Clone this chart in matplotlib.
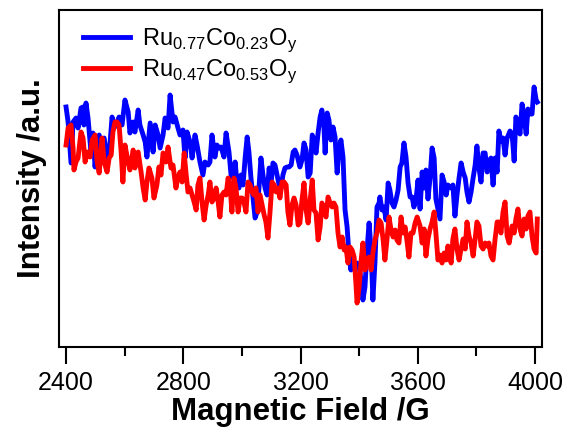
import matplotlib
matplotlib.use('Agg')
from matplotlib import pyplot as plt
from matplotlib.ticker import MultipleLocator

# EPR spectra (field in G, intensity in a.u.)
field_a = [2400, 2407, 2417, 2424, 2434, 2441, 2451, 2458, 2461, 2468, 2475, 2485, 2492, 2499, 2506, 2513,
           2523, 2530, 2540, 2547, 2557, 2564, 2574, 2581, 2591, 2601, 2612, 2618, 2629, 2635, 2646, 2652,
           2663, 2670, 2676, 2687, 2697, 2704, 2714, 2721, 2731, 2738, 2748, 2755, 2765, 2772, 2782, 2789,
           2799, 2806, 2813, 2823, 2830, 2840, 2847, 2857, 2867, 2874, 2885, 2891, 2898, 2908, 2915, 2922,
           2929, 2939, 2946, 2956, 2963, 2970, 2977, 2983, 2990, 2997, 3004, 3011, 3018, 3024, 3031, 3038,
           3045, 3052, 3059, 3065, 3072, 3079, 3086, 3093, 3099, 3106, 3113, 3120, 3127, 3134, 3140, 3147,
           3154, 3161, 3168, 3175, 3181, 3188, 3198, 3205, 3212, 3219, 3226, 3233, 3240, 3246, 3253, 3260,
           3267, 3273, 3280, 3284, 3291, 3297, 3304, 3311, 3318, 3325, 3331, 3338, 3345, 3349, 3352, 3359,
           3362, 3366, 3372, 3379, 3386, 3393, 3400, 3407, 3413, 3420, 3427, 3434, 3441, 3447, 3454, 3461,
           3468, 3471, 3478, 3485, 3492, 3499, 3505, 3512, 3519, 3526, 3533, 3540, 3546, 3553, 3560, 3567,
           3574, 3581, 3587, 3594, 3601, 3608, 3615, 3622, 3628, 3635, 3642, 3649, 3656, 3662, 3669, 3676,
           3683, 3690, 3697, 3703, 3714, 3720, 3727, 3734, 3741, 3748, 3755, 3762, 3768, 3775, 3782, 3789,
           3796, 3802, 3809, 3816, 3823, 3830, 3837, 3843, 3850, 3857, 3864, 3871, 3877, 3884, 3891, 3898,
           3905, 3915, 3922, 3929, 3935, 3942, 3949, 3956, 3963, 3970, 3976, 3983, 3990, 3997, 4004, 4008]
int_a = [240, 225, 184, 225, 229, 219, 239, 240, 222, 244, 229, 195, 214, 180, 205, 212,
         189, 209, 189, 192, 230, 219, 225, 230, 222, 247, 235, 214, 225, 215, 237, 222,
         212, 205, 190, 224, 195, 222, 212, 199, 212, 229, 219, 252, 225, 230, 219, 212,
         217, 189, 215, 205, 189, 212, 202, 185, 172, 185, 182, 185, 212, 190, 202, 199,
         200, 190, 214, 195, 172, 169, 185, 165, 159, 172, 162, 189, 210, 195, 169, 149,
         129, 135, 162, 189, 172, 159, 152, 179, 162, 184, 182, 172, 162, 159, 172, 179,
         180, 180, 182, 195, 197, 192, 180, 187, 204, 197, 170, 174, 212, 207, 194, 214,
         230, 237, 220, 194, 234, 227, 207, 220, 210, 174, 197, 207, 190, 160, 137, 120,
         107, 90, 77, 90, 80, 84, 80, 67, 47, 60, 97, 124, 97, 47, 84, 140,
         144, 150, 137, 140, 127, 164, 157, 144, 140, 147, 157, 180, 184, 204, 190, 164,
         150, 150, 140, 147, 167, 138, 175, 159, 177, 148, 169, 199, 189, 148, 138, 128,
         172, 165, 152, 162, 159, 162, 131, 152, 169, 184, 175, 169, 155, 145, 155, 169,
         182, 201, 179, 165, 194, 194, 175, 186, 189, 162, 189, 175, 216, 206, 209, 192,
         209, 216, 213, 186, 230, 223, 213, 243, 230, 213, 238, 233, 233, 260, 247, 245]

field_b = [2400, 2407, 2417, 2424, 2427, 2434, 2441, 2451, 2458, 2465, 2472, 2482, 2489, 2499, 2506, 2513,
           2523, 2530, 2540, 2547, 2554, 2560, 2567, 2574, 2581, 2588, 2594, 2601, 2612, 2618, 2629, 2635,
           2646, 2656, 2663, 2670, 2676, 2683, 2693, 2700, 2710, 2717, 2724, 2731, 2741, 2748, 2758, 2765,
           2775, 2782, 2789, 2796, 2803, 2809, 2816, 2823, 2830, 2837, 2844, 2850, 2857, 2864, 2871, 2878,
           2885, 2891, 2898, 2905, 2912, 2919, 2925, 2932, 2939, 2946, 2953, 2960, 2966, 2973, 2980, 2987,
           2994, 3001, 3007, 3014, 3021, 3028, 3035, 3041, 3048, 3055, 3062, 3069, 3076, 3082, 3089, 3096,
           3103, 3110, 3117, 3123, 3130, 3137, 3144, 3151, 3157, 3164, 3171, 3178, 3185, 3192, 3198, 3205,
           3212, 3219, 3226, 3233, 3240, 3246, 3253, 3260, 3267, 3273, 3280, 3287, 3294, 3301, 3308, 3314,
           3321, 3328, 3335, 3342, 3349, 3355, 3362, 3369, 3376, 3383, 3389, 3393, 3400, 3407, 3413, 3420,
           3427, 3434, 3441, 3447, 3454, 3461, 3468, 3475, 3482, 3488, 3495, 3502, 3509, 3516, 3523, 3529,
           3536, 3543, 3550, 3557, 3563, 3570, 3577, 3584, 3591, 3598, 3608, 3615, 3622, 3628, 3635, 3642,
           3649, 3656, 3662, 3669, 3676, 3683, 3690, 3697, 3703, 3714, 3720, 3727, 3734, 3741, 3748, 3755,
           3762, 3768, 3775, 3782, 3789, 3796, 3802, 3809, 3816, 3823, 3830, 3837, 3843, 3850, 3857, 3864,
           3871, 3877, 3884, 3891, 3898, 3905, 3912, 3922, 3929, 3935, 3942, 3949, 3956, 3963, 3970, 3976,
           3983, 3990, 3997, 4004, 4008]
int_b = [202, 219, 222, 199, 177, 185, 189, 215, 209, 185, 195, 190, 207, 212, 185, 174,
         209, 185, 175, 189, 192, 215, 225, 225, 222, 195, 165, 202, 185, 177, 197, 179,
         195, 175, 159, 147, 165, 179, 169, 149, 162, 180, 172, 194, 185, 200, 179, 182,
         159, 170, 175, 165, 194, 175, 155, 159, 152, 145, 137, 162, 169, 145, 127, 142,
         152, 165, 145, 149, 159, 145, 130, 152, 155, 152, 169, 159, 135, 169, 159, 135,
         149, 149, 145, 135, 165, 162, 155, 152, 159, 135, 152, 142, 132, 125, 109, 135,
         165, 162, 155, 159, 149, 165, 165, 162, 135, 122, 142, 149, 142, 122, 124, 147,
         164, 137, 124, 147, 167, 137, 134, 107, 120, 144, 140, 130, 150, 144, 140, 144,
         140, 114, 100, 110, 97, 100, 84, 100, 97, 90, 64, 44, 60, 87, 104, 77,
         87, 90, 77, 94, 107, 114, 127, 124, 107, 87, 107, 130, 117, 110, 117, 107,
         104, 130, 114, 120, 107, 90, 114, 114, 124, 130, 121, 104, 118, 91, 108, 118,
         125, 135, 114, 87, 92, 84, 94, 87, 101, 84, 108, 118, 98, 87, 98, 108,
         98, 125, 111, 104, 91, 108, 125, 121, 101, 98, 104, 101, 104, 91, 87, 108,
         125, 125, 114, 135, 145, 111, 104, 121, 114, 128, 138, 118, 111, 128, 118, 131,
         135, 111, 98, 94, 128]

label_a = r'Ru$_\mathregular{0.77}$Co$_\mathregular{0.23}$O$_\mathregular{y}$'
label_b = r'Ru$_\mathregular{0.47}$Co$_\mathregular{0.53}$O$_\mathregular{y}$'

plt.rcParams['font.family'] = ['Liberation Sans', 'DejaVu Sans']
plt.rcParams['mathtext.fontset'] = 'custom'
plt.rcParams['mathtext.rm'] = 'Liberation Sans'

fig = plt.figure(figsize=(5.68, 4.43), dpi=100)
ax = fig.add_axes([0.1039, 0.2167, 0.8503, 0.7607])

ax.plot(field_a, int_a, color='#0000ff', lw=3.5, label=label_a)
ax.plot(field_b, int_b, color='#ff0000', lw=3.5, label=label_b)

ax.set_xlim(2376, 4024)
ax.set_ylim(0, 337)
ax.xaxis.set_major_locator(MultipleLocator(400))
ax.xaxis.set_minor_locator(MultipleLocator(200))
ax.tick_params(axis='x', which='major', direction='out', length=12.5, width=1.5, labelsize=18, pad=5)
ax.tick_params(axis='x', which='minor', direction='out', length=6.5, width=1.5)
ax.set_yticks([])
for sp in ax.spines.values():
    sp.set_linewidth(1.5)

ax.set_xlabel('Magnetic Field /G', fontsize=22.5, fontweight='bold', labelpad=1)
ax.set_ylabel('Intensity /a.u.', fontsize=22.5, fontweight='bold', labelpad=9)

ax.legend(loc='upper left', frameon=False, fontsize=17, handlelength=2.0, handletextpad=0.5,
          labelspacing=0.15, borderaxespad=0.3, bbox_to_anchor=(0.015, 1.0))

fig.savefig('out.png', dpi=100)
